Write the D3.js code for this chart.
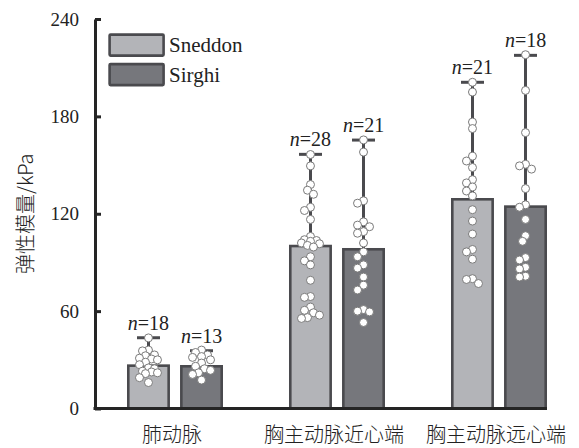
<!DOCTYPE html>
<html><head><meta charset="utf-8">
<script src="https://cdn.jsdelivr.net/npm/d3@7"></script>
<style>body{margin:0;background:#fff}
.serif{font-family:"Liberation Serif","Times New Roman","DejaVu Serif",serif}
.cjk{font-family:"Noto Sans CJK SC","Noto Sans CJK JP",sans-serif}
</style>
</head><body>
<svg id="c" width="579" height="448"></svg>
<script>
const categories = ["肺动脉", "胸主动脉近心端", "胸主动脉远心端"];
const series = ["Sneddon", "Sirghi"];
const yTicks = [0, 60, 120, 180, 240];
const meansSneddon = [26.4, 100.1, 128.9];
const meansSirghi = [26.0, 98.1, 124.4];
const upperSneddon = [43.6, 156.6, 201.0];
const upperSirghi = [35.6, 165.4, 217.6];
const nSneddon = [18, 28, 21];
const nSirghi = [13, 21, 18];
const ptsSneddon = [
  [43.5, 36, 35.5, 33, 32.5, 31, 30.5, 30, 28.5, 27, 25, 24.5, 23, 22.5, 22, 21.5, 19, 16],
  [156.5, 149.5, 138, 134.5, 132, 124, 122, 116.5, 106, 104, 103.5, 103, 102, 101.5, 100.5, 99.5, 93.5, 91, 88.5, 79, 69, 68.5, 62.5, 60.5, 59, 57.5, 56, 55.5],
  [201, 195, 176.5, 172.5, 155.5, 152.5, 148.5, 141, 139, 136.5, 134, 131, 122.5, 115.5, 107.5, 98, 96.5, 92, 80, 79.5, 77]
];
const ptsSirghi = [
  [36, 34.5, 33, 32, 31.5, 30, 28, 26, 24.5, 23.5, 22, 21, 17.5],
  [165.5, 158, 128, 126.5, 115, 113, 112, 109, 108, 102, 96.5, 93.5, 88.5, 86.5, 81, 76, 73, 61, 60, 59.5, 53],
  [218, 196, 170, 150.5, 149.5, 147.5, 135.5, 125.5, 124, 116.5, 106.5, 103, 93, 91.5, 87, 86, 81.5, 81]
];

const svg = d3.select("#c");
const axisColor = "#252525";
const fills = {Sneddon: "#b3b4b8", Sirghi: "#76777c"};
const strokeC = "#4a4a4e";

const y = d3.scaleLinear().domain([0, 240]).range([408.5, 19]);
const x0 = d3.scaleBand().domain(categories).range([94, 580]);
const x1 = d3.scaleBand().domain(series).range([0, 96]).paddingInner(0.19);
const groupOffset = x0.bandwidth() / 2 - 48;

const data = [];
categories.forEach((c, i) => {
  data.push({cat: c, s: "Sneddon", mean: meansSneddon[i], upper: upperSneddon[i], n: nSneddon[i], pts: ptsSneddon[i]});
  data.push({cat: c, s: "Sirghi", mean: meansSirghi[i], upper: upperSirghi[i], n: nSirghi[i], pts: ptsSirghi[i]});
});
const bx = d => x0(d.cat) + groupOffset + x1(d.s);
const bc = d => bx(d) + x1.bandwidth() / 2;
const sw = 2.6;

// bars
svg.append("g").selectAll("rect").data(data).join("rect")
  .attr("x", d => bx(d) + sw / 2)
  .attr("y", d => y(d.mean))
  .attr("width", x1.bandwidth() - sw)
  .attr("height", d => y(0) - y(d.mean))
  .attr("fill", d => fills[d.s])
  .attr("stroke", strokeC).attr("stroke-width", sw);

// error bars
const eb = svg.append("g").attr("stroke", strokeC).attr("stroke-width", 3);
eb.selectAll("line.v").data(data).join("line").attr("class", "v")
  .attr("x1", bc).attr("x2", bc)
  .attr("y1", d => y(d.mean)).attr("y2", d => y(d.upper));
eb.selectAll("line.h").data(data).join("line").attr("class", "h")
  .attr("x1", d => bc(d) - 11.5).attr("x2", d => bc(d) + 11.5)
  .attr("y1", d => y(d.upper)).attr("y2", d => y(d.upper));

// n labels
const nl = svg.append("g").selectAll("text").data(data).join("text")
  .attr("class", "serif")
  .attr("x", bc).attr("y", d => y(d.upper) - 8)
  .attr("text-anchor", "middle")
  .style("font-size", "20px").attr("fill", "#222");
nl.append("tspan").style("font-style", "italic").text("n");
nl.append("tspan").text(d => "=" + d.n);

// points (deterministic swarm around the bar centre)
const dotG = svg.append("g");
data.forEach(d => {
  const placed = [];
  const cands = [0, -3, 3, -6, 6, -9, 9];
  d.pts.forEach(v => {
    const py = y(v);
    let best = 0, bestD = -1;
    for (const o of cands) {
      let md = Infinity;
      placed.forEach(p => { md = Math.min(md, Math.hypot(p[0] - o, p[1] - py)); });
      if (md >= 6) { best = o; bestD = md; break; }
      if (md > bestD) { bestD = md; best = o; }
    }
    placed.push([best, py]);
  });
  dotG.selectAll(null).data(placed).join("circle")
    .attr("cx", p => bc(d) + p[0]).attr("cy", p => p[1]).attr("r", 4)
    .attr("fill", "#fff").attr("stroke", "#7a7a7a").attr("stroke-width", 1);
});

// y axis
const yAxis = d3.axisLeft(y).tickValues(yTicks).tickSizeInner(-6).tickSizeOuter(0).tickPadding(16);
const ya = svg.append("g").attr("transform", "translate(95,0)").call(yAxis);
ya.attr("font-family", null);
ya.select(".domain").attr("stroke", axisColor).attr("stroke-width", 3);
ya.selectAll(".tick line").attr("stroke", axisColor).attr("stroke-width", 3);
ya.selectAll(".tick text").attr("class", "serif").style("font-size", "19px").attr("fill", "#222");

// baseline
svg.append("line").attr("x1", 93.5).attr("x2", 547).attr("y1", y(0)).attr("y2", y(0))
  .attr("stroke", axisColor).attr("stroke-width", 3);

// category labels
svg.append("g").selectAll("text").data(categories).join("text")
  .attr("class", "cjk")
  .attr("x", c => x0(c) + x0.bandwidth() / 2)
  .attr("dx", -3)
  .attr("y", 442)
  .attr("text-anchor", "middle")
  .style("font-size", "20px").style("font-weight", "300").attr("fill", "#222")
  .text(c => c);

// y label
svg.append("text")
  .attr("class", "cjk")
  .attr("transform", "translate(33,274) rotate(-90)")
  .attr("text-anchor", "start")
  .style("font-size", "20px").style("font-weight", "300").attr("fill", "#222")
  .text("弹性模量/kPa");

// legend
const lg = svg.append("g");
series.forEach((s, i) => {
  lg.append("rect").attr("x", 109.6).attr("y", 34.6 + i * 29.5).attr("width", 54).attr("height", 21)
    .attr("fill", fills[s]).attr("stroke", strokeC).attr("stroke-width", sw).attr("rx", 1);
  lg.append("text").attr("class", "serif").attr("x", 169).attr("y", 45 + i * 29.5).attr("dy", "0.35em")
    .style("font-size", "21px").attr("fill", "#222").text(s);
});
</script>
</body></html>
